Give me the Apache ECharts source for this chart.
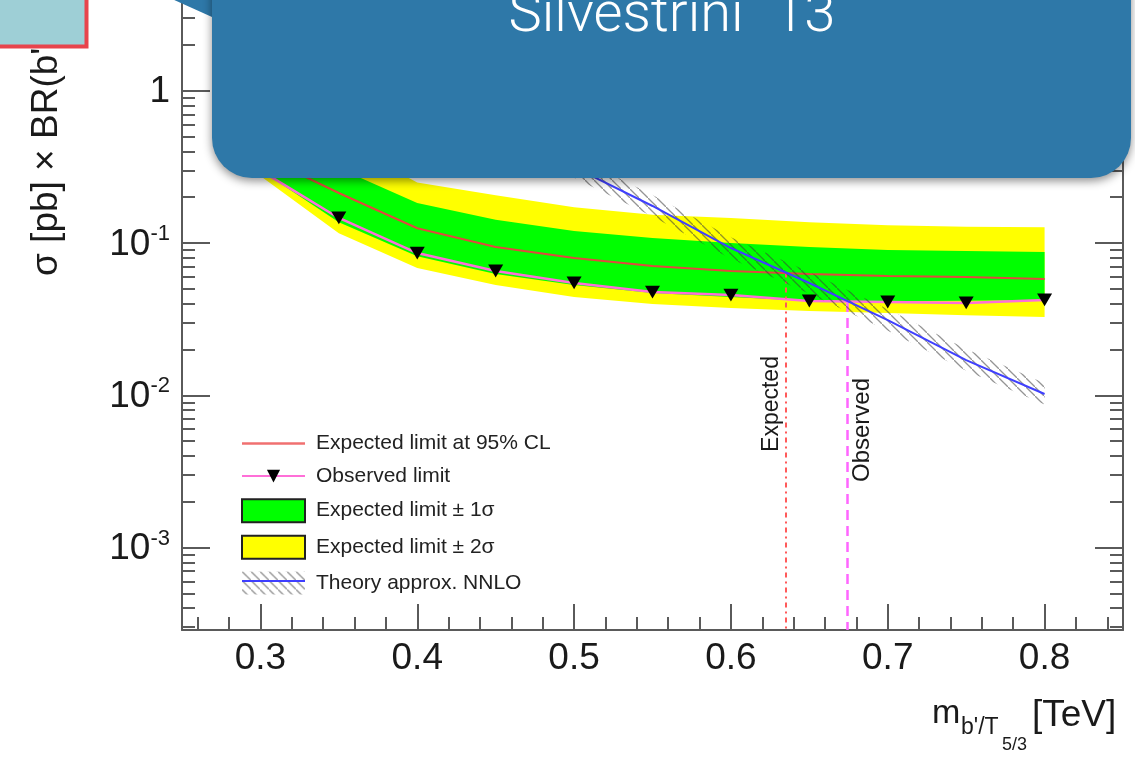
<!DOCTYPE html>
<html>
<head>
<meta charset="utf-8">
<script src="https://cdn.jsdelivr.net/npm/echarts@6/dist/echarts.min.js"></script>
<style>
  html, body { margin: 0; padding: 0; background: #fff; }
  #main { width: 1135px; height: 759px; }
</style>
</head>
<body>
<div id="main"></div>
<script>
// mass points, TeV
var masses = [0.30, 0.35, 0.40, 0.45, 0.50, 0.55, 0.60, 0.65, 0.70, 0.75, 0.80];
// limits on sigma x BR, pb
var expected = [0.378, 0.213, 0.125, 0.094, 0.0797, 0.0707, 0.0655, 0.0626, 0.0607, 0.0598, 0.058];
var observed = [0.30, 0.146, 0.0859, 0.0655, 0.0547, 0.0476, 0.0455, 0.0416, 0.041, 0.0404, 0.0423];
var exp1Up = [0.60, 0.31, 0.183, 0.142, 0.12, 0.108, 0.10, 0.094, 0.09, 0.0886, 0.0873];
var exp1Dn = [0.30, 0.137, 0.082, 0.0625, 0.053, 0.047, 0.0442, 0.0416, 0.0415, 0.0418, 0.0423];
var exp2Up = [0.95, 0.47, 0.25, 0.206, 0.172, 0.153, 0.146, 0.137, 0.131, 0.128, 0.127];
var exp2Dn = [0.275, 0.116, 0.0686, 0.053, 0.0442, 0.0398, 0.0374, 0.0358, 0.0347, 0.0336, 0.0327];
// theory (approx NNLO) and its band
var theory   = [3.3, 1.84, 1.03, 0.58, 0.315, 0.175, 0.0927, 0.0546, 0.0312, 0.017, 0.0102];
var theoryUp = [3.9, 2.17, 1.22, 0.685, 0.372, 0.207, 0.109, 0.0644, 0.0368, 0.0201, 0.012];
var theoryDn = [2.8, 1.56, 0.875, 0.493, 0.268, 0.149, 0.0788, 0.0464, 0.0265, 0.0145, 0.0087];
// where the limits cross the theory
var crossExp = [0.635, 0.064];
var crossObs = [0.674, 0.041];
// ticks
var xTicks = [0.3, 0.4, 0.5, 0.6, 0.7, 0.8];
var xMinorTicks = [0.26, 0.28, 0.32, 0.34, 0.36, 0.38, 0.42, 0.44, 0.46, 0.48, 0.52, 0.54, 0.56, 0.58,
                   0.62, 0.64, 0.66, 0.68, 0.72, 0.74, 0.76, 0.78, 0.82, 0.84];
var yTicks = [0.001, 0.01, 0.1, 1];

var X_MIN = 0.25, X_MAX = 0.85;
var Y_MIN = -3.541, Y_MAX = 0.5955;   // log10(pb)

function lg(v) { return Math.log(v) / Math.LN10; }

var yMajor = yTicks.map(lg).map(Math.round);
var yMinor = [];
for (var d = -4; d <= 0; d++) {
  for (var k = 2; k <= 9; k++) {
    var t = d + lg(k);
    if (t >= Y_MIN && t <= Y_MAX) yMinor.push(t);
  }
}

var FONT = 'Liberation Sans, Arial, sans-serif';
var AX = '#5a5a5a';

// hatch for the theory band
var hatch = document.createElement('canvas');
hatch.width = 9; hatch.height = 9;
var hc = hatch.getContext('2d');
hc.strokeStyle = 'rgba(60,60,60,0.55)';
hc.lineWidth = 1.3;
hc.beginPath();
hc.moveTo(-2, -2); hc.lineTo(11, 11);
hc.stroke();
var hatchFill = { image: hatch, repeat: 'repeat' };

function band(lo, hi, fill) {
  return function (params, api) {
    if (params.dataIndex !== 0) return;
    var pts = [];
    for (var i = 0; i < masses.length; i++) pts.push(api.coord([masses[i], lg(hi[i])]));
    for (var j = masses.length - 1; j >= 0; j--) pts.push(api.coord([masses[j], lg(lo[j])]));
    return { type: 'polygon', shape: { points: pts }, style: { fill: fill } };
  };
}
function bandData(lo, hi) {
  return masses.map(function (m, i) { return [m, lg(lo[i]), lg(hi[i])]; });
}
function lineData(arr) {
  return masses.map(function (m, i) { return [m, lg(arr[i])]; });
}

function yAxisDef(pos, ticks, len, withLabels) {
  return {
    type: 'value', position: pos, min: Y_MIN, max: Y_MAX,
    splitLine: { show: false },
    axisLine: { show: withLabels !== null, onZero: false, lineStyle: { color: AX, width: 2 } },
    axisTick: { show: true, inside: true, length: len, customValues: ticks, lineStyle: { color: AX, width: 2 } },
    axisLabel: withLabels ? {
      show: true, margin: 12, customValues: yMajor,
      formatter: function (v) {
        if (Math.abs(v) < 1e-9) return '{b|1}';
        return '{b|10}{s|' + Math.round(v) + '}';
      },
      rich: {
        b: { fontSize: 37, fontFamily: FONT, color: '#1a1a1a', lineHeight: 40, verticalAlign: 'bottom' },
        s: { fontSize: 22, fontFamily: FONT, color: '#1a1a1a', verticalAlign: 'top' }
      }
    } : { show: false }
  };
}

var BOX = '#2e78a8';
// down triangle, with a little empty margin so the legend key stays small
var TRI = 'path://M-2,-2 M12,11 M0,0 L10,0 L5,9 Z';

var chart = echarts.init(document.getElementById('main'));
chart.setOption({
  animation: false,
  backgroundColor: '#fff',
  grid: { left: 182, right: 12, top: 0, bottom: 129, containLabel: false },
  xAxis: [{
    type: 'value', position: 'bottom', min: X_MIN, max: X_MAX,
    splitLine: { show: false },
    axisLine: { onZero: false, lineStyle: { color: AX, width: 2 } },
    axisTick: { inside: true, length: 26, customValues: xTicks, lineStyle: { color: AX, width: 2 } },
    axisLabel: {
      customValues: xTicks, margin: 10, fontSize: 37, fontFamily: FONT, color: '#1a1a1a',
      formatter: function (v) { return v.toFixed(1); }
    }
  }, {
    type: 'value', position: 'bottom', min: X_MIN, max: X_MAX,
    splitLine: { show: false },
    axisLine: { show: false, onZero: false },
    axisTick: { inside: true, length: 13, customValues: xMinorTicks, lineStyle: { color: AX, width: 2 } },
    axisLabel: { show: false }
  }],
  yAxis: [
    yAxisDef('left', yMajor, 28, true),
    yAxisDef('left', yMinor, 13, null),
    yAxisDef('right', yMajor, 28, false),
    yAxisDef('right', yMinor, 13, null)
  ],
  legend: {
    orient: 'vertical', left: 241, top: 433, padding: 0,
    itemWidth: 63, itemHeight: 23, itemGap: 11.6,
    textStyle: { fontSize: 21, fontFamily: FONT, color: '#222', padding: [0, 0, 0, 6] },
    data: [
      { name: 'Expected limit at 95% CL', icon: 'path://M0,0 L63,0 L63,2.5 L0,2.5 Z', itemStyle: { color: '#f07070' } },
      { name: 'Observed limit' },
      { name: 'Expected limit \u00b1 1\u03c3', icon: 'rect', itemStyle: { borderColor: '#222', borderWidth: 2 } },
      { name: 'Expected limit \u00b1 2\u03c3', icon: 'rect', itemStyle: { borderColor: '#222', borderWidth: 2 } },
      { name: 'Theory approx. NNLO', icon: 'rect' }
    ]
  },
  series: [{
    name: 'Expected limit \u00b1 2\u03c3', type: 'custom',
    itemStyle: { color: '#ffff00' },
    encode: { x: 0, y: [1, 2] },
    renderItem: band(exp2Dn, exp2Up, '#ffff00'),
    data: bandData(exp2Dn, exp2Up), z: 1
  }, {
    name: 'Expected limit \u00b1 1\u03c3', type: 'custom',
    itemStyle: { color: '#00ff00' },
    encode: { x: 0, y: [1, 2] },
    renderItem: band(exp1Dn, exp1Up, '#00ff00'),
    data: bandData(exp1Dn, exp1Up), z: 2
  }, {
    name: 'Expected limit at 95% CL', type: 'line',
    symbol: 'none', z: 3,
    lineStyle: { color: '#e0483e', width: 2 },
    itemStyle: { color: '#e0483e' },
    data: lineData(expected),
    markLine: {
      silent: true, symbol: 'none', label: { show: false },
      lineStyle: { color: '#ff5a5a', width: 2, type: [5, 4, 2, 4] },
      data: [[{ coord: [crossExp[0], lg(crossExp[1])] }, { coord: [crossExp[0], Y_MIN] }]]
    }
  }, {
    name: 'Observed limit', type: 'line', z: 4,
    symbol: TRI, symbolSize: [21, 18.5],
    lineStyle: { color: '#ff6fd8', width: 2.5 },
    itemStyle: { color: '#000' },
    data: lineData(observed),
    markLine: {
      silent: true, symbol: 'none', label: { show: false },
      lineStyle: { color: '#ff66ff', width: 2.5, type: [10, 6] },
      data: [[{ coord: [crossObs[0], lg(crossObs[1])] }, { coord: [crossObs[0], Y_MIN] }]]
    }
  }, {
    name: 'Theory approx. NNLO', type: 'custom', z: 5,
    itemStyle: { color: hatchFill },
    encode: { x: 0, y: [1, 2] },
    renderItem: band(theoryDn, theoryUp, hatchFill),
    data: bandData(theoryDn, theoryUp)
  }, {
    name: 'Theory approx. NNLO', type: 'line', z: 6,
    symbol: 'none',
    lineStyle: { color: '#3f3fff', width: 2 },
    itemStyle: { color: '#3f3fff' },
    data: lineData(theory)
  }],
  graphic: [
    // blue stroke over the hatched legend key
    { type: 'line', z: 100, shape: { x1: 242, y1: 581, x2: 305, y2: 581 }, style: { stroke: '#3f3fff', lineWidth: 2 } },
    { type: 'text', z: 100, x: 772, y: 404, rotation: Math.PI / 2,
      style: { text: 'Expected', font: '23px ' + FONT, fill: '#1a1a1a', align: 'center', verticalAlign: 'middle' } },
    { type: 'text', z: 100, x: 862, y: 430, rotation: Math.PI / 2,
      style: { text: 'Observed', font: '24px ' + FONT, fill: '#1a1a1a', align: 'center', verticalAlign: 'middle' } },
    // y title
    { type: 'text', z: 100, x: 47, y: 276, rotation: Math.PI / 2,
      style: { text: '\u03c3 [pb] \u00d7 BR(b\' \u2192 tW)', font: '37px ' + FONT, fill: '#1a1a1a', align: 'left', verticalAlign: 'middle' } },
    // x title
    { type: 'text', z: 100, x: 932, y: 714, style: { text: 'm', font: '34px ' + FONT, fill: '#1a1a1a', align: 'left', verticalAlign: 'middle' } },
    { type: 'text', z: 100, x: 961, y: 728, style: { text: 'b\'/T', font: '23px ' + FONT, fill: '#1a1a1a', align: 'left', verticalAlign: 'middle' } },
    { type: 'text', z: 100, x: 1002, y: 745, style: { text: '5/3', font: '18px ' + FONT, fill: '#1a1a1a', align: 'left', verticalAlign: 'middle' } },
    { type: 'text', z: 100, x: 1032, y: 716, style: { text: '[TeV]', font: '37px ' + FONT, fill: '#1a1a1a', align: 'left', verticalAlign: 'middle' } },
    // slide overlays
    { type: 'rect', z: 200, shape: { x: -5, y: -5, width: 91.5, height: 51.5 },
      style: { fill: '#9ecfd6', stroke: '#e8444c', lineWidth: 4 } },
    { type: 'polygon', z: 200, shape: { points: [[172, -1], [420, -1], [420, 80], [212, 17]] },
      style: { fill: BOX } },
    { type: 'rect', z: 201, shape: { x: 212, y: -60, width: 919, height: 238, r: 40 },
      style: { fill: BOX, shadowBlur: 10, shadowOffsetY: 3, shadowColor: 'rgba(0,0,0,0.45)' } },
    { type: 'text', z: 202, x: 672, y: 17,
      style: { text: 'Silvestrini `13', font: '300 56px Roboto, Lato, sans-serif', fill: '#ffffff', align: 'center', verticalAlign: 'middle' } }
  ]
});
</script>
</body>
</html>
